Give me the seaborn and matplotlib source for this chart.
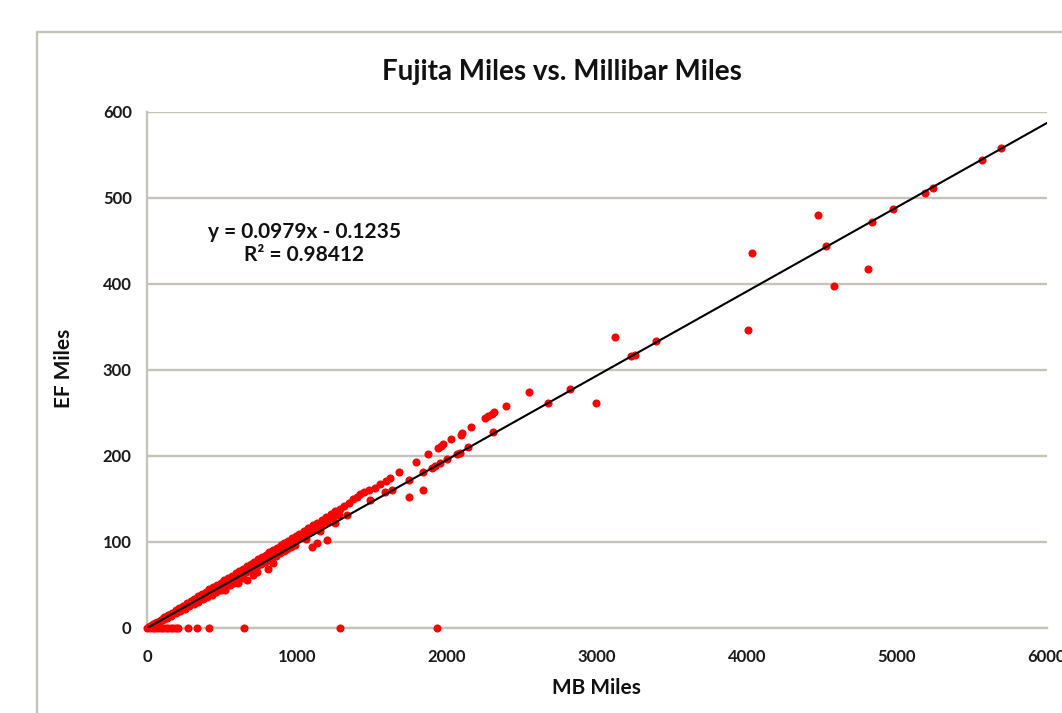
import matplotlib
matplotlib.use('Agg')
import matplotlib.pyplot as plt
import seaborn as sns
import pandas as pd
from matplotlib.lines import Line2D

# upper edge of the dense band
mb_upper = [15, 40, 65, 90, 115, 140, 165, 190, 215, 240, 265, 290, 315, 340, 365,
            390, 415, 440, 465, 490, 515, 540, 565, 590, 615, 640, 665, 690, 715, 740,
            765, 790, 815, 840, 865, 890, 915, 940, 965, 990, 1015, 1045, 1075, 1105,
            1135, 1165, 1195, 1225, 1255, 1285, 1315, 1345, 1376, 1398, 1420, 1447,
            1480, 1520, 1550, 1593, 1620, 1680, 1793, 1876, 1942, 1960, 1976, 2024,
            2091, 2102, 2160, 2253, 2276, 2298, 2313, 2393, 2545]
ef_upper = [1.6, 4.3, 7.0, 9.7, 12.4, 15.1, 17.8, 20.5, 23.2, 25.9, 28.6, 31.3, 34.0, 36.7, 39.4,
            42.1, 44.8, 47.5, 50.2, 52.9, 55.6, 58.3, 61.0, 63.7, 66.4, 69.1, 71.8, 74.5, 77.2, 79.9,
            82.6, 85.3, 88.0, 90.7, 93.4, 96.1, 98.8, 101.5, 104.2, 106.9, 109.6, 112.9, 116.1, 119.3,
            122.6, 125.8, 129.1, 132.3, 135.5, 138.8, 142.0, 145.3, 149.5, 152.7, 155.4, 157.8,
            160.0, 163.0, 167.0, 171.0, 175.0, 181.8, 193.4, 202.0, 209.7, 212.0, 214.0, 219.4,
            225.0, 227.0, 234.0, 243.8, 246.5, 248.8, 251.6, 258.0, 274.0]

# middle of the dense band
mb_middle = [20, 55, 90, 125, 160, 195, 230, 265, 300, 335, 370, 405, 440, 475, 510, 545,
             580, 615, 650, 685, 720, 755, 790, 825, 860, 895, 930, 965, 1000, 1040, 1080,
             1120, 1160, 1200, 1240, 1280]
ef_middle = [2.1, 5.7, 9.3, 12.9, 16.5, 20.1, 23.7, 27.3, 30.9, 34.5, 38.1, 41.7, 45.3, 48.9, 52.5, 56.1,
             59.7, 63.3, 67.0, 70.6, 74.2, 77.8, 81.4, 85.0, 88.6, 92.2, 95.8, 99.4, 103.0, 107.1, 111.2,
             115.4, 119.5, 123.6, 127.7, 131.8]

# points sitting on the trend line
mb_trend = [10, 35, 60, 85, 110, 135, 160, 185, 210, 235, 260, 285, 310, 335, 360, 385,
            410, 435, 460, 485, 510, 535, 560, 585, 610, 635, 660, 685, 710, 735, 760, 785,
            810, 835, 860, 885, 910, 935, 960, 985, 1060, 1150, 1250, 1330, 1487, 1587,
            1631, 1749, 1842, 1898, 1920, 1953, 1998, 2064, 2087, 2142, 2309, 2670, 2820,
            3225, 3250, 3395, 4525, 4830, 4970, 5185, 5240, 5565, 5690]
ef_trend = [1.0, 3.4, 5.9, 8.3, 10.8, 13.2, 15.7, 18.1, 20.6, 23.0, 25.5, 27.9, 30.4, 32.8, 35.3, 37.7,
            40.2, 42.6, 45.1, 47.5, 50.0, 52.4, 54.9, 57.3, 59.8, 62.2, 64.7, 67.1, 69.6, 72.0, 74.5, 76.9,
            79.4, 81.8, 84.3, 86.7, 89.2, 91.6, 94.1, 96.5, 104.0, 113.0, 122.0, 131.0, 149.0, 158.5,
            161.0, 172.0, 181.8, 186.0, 188.0, 192.0, 197.0, 202.0, 204.0, 210.0, 227.5, 262.0, 278.0,
            316.0, 318.0, 334.0, 444.0, 472.0, 487.0, 506.0, 512.0, 544.0, 558.0]

# lower edge of the band and stray points below it
mb_lower = [10, 40, 70, 100, 130, 160, 190, 220, 250, 280, 310, 340, 370, 400, 430, 460,
            490, 520, 550, 580, 609, 640, 664, 709, 731, 809, 842, 1098, 1131, 1198,
            1749, 1838, 2995, 4005, 4580, 4805]
ef_lower = [0.9, 3.6, 6.3, 9.0, 11.7, 14.4, 17.1, 19.8, 22.5, 25.2, 27.9, 30.6, 33.3, 36.0, 38.7, 41.4,
            44.1, 44.0, 49.5, 52.2, 52.0, 57.6, 55.8, 61.6, 65.5, 68.3, 75.2, 93.8, 98.4, 102.0,
            152.0, 161.0, 262.0, 347.0, 398.0, 418.0]

# stray points above the line
mb_above = [3120, 4030, 4470]
ef_above = [338.0, 436.0, 480.0]

# points with zero EF miles
mb_zero = [0, 20, 42, 55, 76, 90, 109, 125, 142, 160, 176, 195, 209, 276, 335, 413, 647, 1287, 1931]
ef_zero = [0] * len(mb_zero)

slope = 0.0979
intercept = -0.1235
r_squared = 0.98412
trend_x = [0, 6000]
trend_y = [slope * v + intercept for v in trend_x]

df = pd.DataFrame({
    'MB Miles': mb_upper + mb_middle + mb_trend + mb_lower + mb_above + mb_zero,
    'EF Miles': ef_upper + ef_middle + ef_trend + ef_lower + ef_above + ef_zero,
})

sns.set_style('white')
plt.rcParams['font.family'] = ['Lato', 'DejaVu Sans']

grid_col = '#c6c3bb'
fig = plt.figure(figsize=(10.62, 7.13), dpi=100)
ax = fig.add_axes([147 / 1062, 85 / 713, 900 / 1062, 516 / 713])

sns.scatterplot(data=df, x='MB Miles', y='EF Miles', ax=ax, color='#ff0000',
                s=34, linewidth=0, clip_on=False, zorder=4)
sns.lineplot(x=trend_x, y=trend_y, ax=ax, color='black', linewidth=1.5, zorder=5)

ax.set_xlim(0, 6000)
ax.set_ylim(0, 600)
ax.set_xticks(range(0, 6001, 1000))
ax.set_yticks(range(0, 601, 100))
ax.yaxis.grid(True, color=grid_col, linewidth=1.7)
ax.set_axisbelow(True)
for side in ['top', 'right']:
    ax.spines[side].set_visible(False)
for side in ['left', 'bottom']:
    ax.spines[side].set_color(grid_col)
    ax.spines[side].set_linewidth(1.7)
ax.tick_params(axis='both', length=5, width=1.3, color=grid_col, labelsize=12,
               labelcolor='#1a1a1a')
ax.tick_params(axis='x', pad=10)
ax.tick_params(axis='y', pad=6)
for lbl in ax.get_xticklabels() + ax.get_yticklabels():
    lbl.set_fontweight('bold')
ax.set_xlabel('')
ax.set_ylabel('')

fig.text(562 / 1062, 1 - 72 / 713, 'Fujita Miles vs. Millibar Miles', ha='center', va='center',
         fontsize=20, fontweight='bold', color='#111111')
fig.text(596 / 1062, 1 - 688 / 713, 'MB Miles', ha='center', va='center',
         fontsize=15, fontweight='bold', color='#111111')
fig.text(64 / 1062, 1 - 368 / 713, 'EF Miles', ha='center', va='center', rotation=90,
         fontsize=15, fontweight='bold', color='#111111')
fig.text(305 / 1062, 1 - 232 / 713, f'y = {slope}x - {abs(intercept)}', ha='center', va='center',
         fontsize=15, fontweight='bold', color='#111111')
fig.text(304 / 1062, 1 - 255 / 713, f'R\u00b2 = {r_squared}', ha='center', va='center',
         fontsize=15, fontweight='bold', color='#111111')

# chart area frame
fig.add_artist(Line2D([37 / 1062, 1.0], [1 - 32 / 713, 1 - 32 / 713], color=grid_col, linewidth=1.7))
fig.add_artist(Line2D([37 / 1062, 37 / 1062], [0.0, 1 - 32 / 713], color=grid_col, linewidth=1.7))

fig.savefig('out.png', dpi=100)
